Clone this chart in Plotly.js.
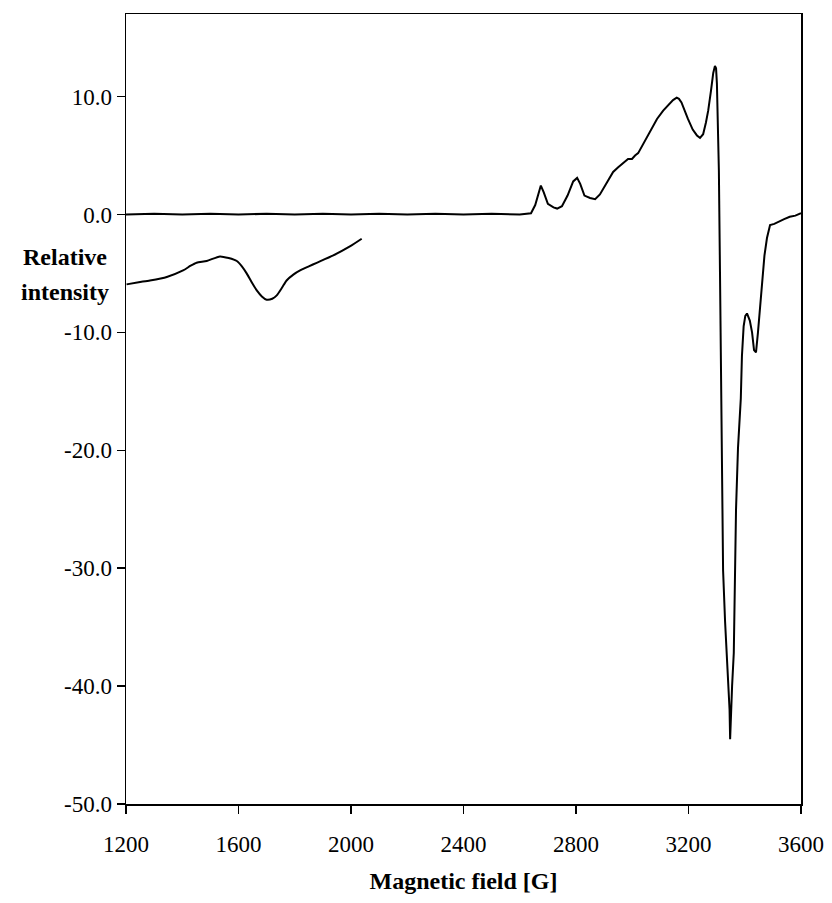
<!DOCTYPE html>
<html>
<head>
<meta charset="utf-8">
<script src="https://cdn.plot.ly/plotly-3.0.1.min.js"></script>
<style>html,body{margin:0;padding:0;background:#fff;}#chart{width:832px;height:903px;}</style>
</head>
<body>
<div id="chart"></div>
<script>
// Main EPR spectrum (magnetic field in G, relative intensity)
var mainField = [1200,1300,1400,1500,1600,1700,1800,1900,2000,2100,2200,2300,2400,2500,2600,2640,
  2655,2668,2675,2685,2700,2720,2733,2750,2770,2790,2804,2815,2830,2850,2868,2885,2900,2915,2932,2950,2970,2985,2999,3010,3021,3035,3052,3070,3088,3110,3130,3145,3158,3166,3175,3188,3198,3215,3230,3241,3252,3262,3270,3280,3288,3294,3298,3301,3305,3308,3312,3316,3319,3323,3330,3337,3341,3346,3348,3351,3355,3361,3365,3369,3376,3386,3390,3396,3402,3408,3418,3426,3433,3440,3447,3455,3461,3470,3479,3490,3505,3520,3540,3560,3580,3600];
var mainIntensity = [0,0.05,0,0.05,0,0.05,0,0.05,0,0.05,0,0.05,0,0.05,0,0.1,
  0.8,2.0,2.45,1.9,0.9,0.6,0.5,0.7,1.6,2.8,3.1,2.6,1.6,1.4,1.3,1.7,2.3,3.0,3.6,4.0,4.4,4.7,4.7,5.0,5.2,5.8,6.5,7.3,8.1,8.8,9.3,9.7,9.9,9.8,9.5,8.6,8.1,7.2,6.7,6.5,6.8,7.8,8.8,10.5,12.0,12.6,12.4,11.1,8.0,3.7,-5.0,-12.8,-23.2,-30.2,-34.5,-37.5,-39.0,-42.0,-44.5,-42.0,-40.0,-37.2,-30.0,-25.0,-19.8,-15.6,-12.0,-9.5,-8.6,-8.4,-9.0,-10.0,-11.5,-11.7,-10.0,-7.5,-5.8,-3.5,-2.0,-0.9,-0.8,-0.6,-0.4,-0.2,-0.1,0.1];

// Expanded low-field segment
var lowField = [1202,1245,1285,1345,1403,1430,1451,1487,1534,1565,1594,1612,1629,1648,1665,1683,1700,1720,1736,1755,1771,1795,1819,1850,1878,1937,1996,2038];
var lowIntensity = [-5.93,-5.75,-5.6,-5.3,-4.75,-4.35,-4.1,-3.95,-3.56,-3.7,-3.95,-4.4,-5.0,-5.8,-6.44,-6.95,-7.23,-7.15,-6.86,-6.2,-5.6,-5.1,-4.75,-4.4,-4.1,-3.47,-2.71,-2.06];

var yTickVals = [-50,-40,-30,-20,-10,0,10];
var yTickText = ['-50.0','-40.0','-30.0','-20.0','-10.0','0.0','10.0'];
var xTickVals = [1200,1600,2000,2400,2800,3200,3600];
var xTickText = ['1200','1600','2000','2400','2800','3200','3600'];

var font = 'Liberation Serif, Times New Roman, serif';

var traces = [
  {x: mainField, y: mainIntensity, mode: 'lines', line: {color: '#000', width: 2}, hoverinfo: 'none'},
  {x: lowField, y: lowIntensity, mode: 'lines', line: {color: '#000', width: 2, shape: 'spline', smoothing: 0.6}, hoverinfo: 'none'}
];

var layout = {
  width: 832, height: 903,
  margin: {l: 126, r: 31, t: 14, b: 99},
  paper_bgcolor: '#fff', plot_bgcolor: '#fff',
  showlegend: false,
  font: {family: font, color: '#000', size: 23},
  xaxis: {
    range: [1200, 3600], tickvals: xTickVals, ticktext: xTickText,
    showline: true, linecolor: '#000', linewidth: 1.5, mirror: true,
    ticks: 'outside', ticklen: 8, tickwidth: 1.5, tickcolor: '#000',
    showgrid: false, zeroline: false, ticklabelstandoff: 11,
    tickfont: {family: font, size: 23, color: '#000'},
    title: {text: '<b>Magnetic field [G]</b>', font: {family: font, size: 24, color: '#000'}, standoff: 16}
  },
  yaxis: {
    range: [-50, 17], tickvals: yTickVals, ticktext: yTickText,
    showline: true, linecolor: '#000', linewidth: 1.5, mirror: true,
    ticks: 'outside', ticklen: 8, tickwidth: 1.5, tickcolor: '#000',
    showgrid: false, zeroline: false,
    tickfont: {family: font, size: 23, color: '#000'}
  },
  annotations: [
    {text: '<b>Relative</b>', xref: 'paper', yref: 'y', x: -0.09, y: -3.64, xanchor: 'center', yanchor: 'middle', showarrow: false, font: {family: font, size: 24, color: '#000'}},
    {text: '<b>intensity</b>', xref: 'paper', yref: 'y', x: -0.09, y: -6.6, xanchor: 'center', yanchor: 'middle', showarrow: false, font: {family: font, size: 24, color: '#000'}}
  ]
};

Plotly.newPlot('chart', traces, layout, {displayModeBar: false, staticPlot: true});
</script>
</body>
</html>
